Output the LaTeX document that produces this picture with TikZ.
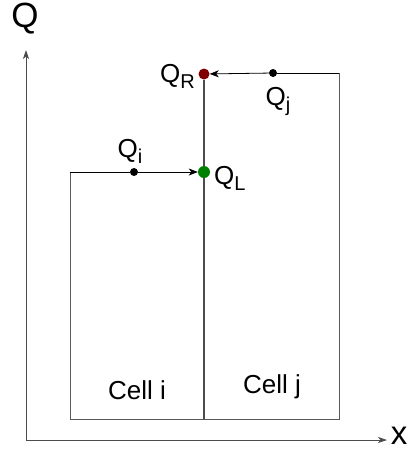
\documentclass[tikz,border=0pt]{standalone}
\usepackage{fontspec}
\setmainfont{Liberation Sans}
\usetikzlibrary{arrows.meta}
\newcommand{\qsub}[1]{Q\raisebox{-6pt}{\fontsize{20}{22}\selectfont #1}}
\begin{document}
\begin{tikzpicture}[x=1pt,y=-1pt,every node/.style={font=\fontsize{26}{28}\selectfont,inner sep=0pt},
  cellline/.style={draw=black!65,line width=0.9pt},
  flux/.style={-{Stealth[length=9pt,width=7pt,inset=2.5pt]},line width=0.8pt},
  dot/.style={circle,fill=black,inner sep=0pt,minimum size=8pt}]
\useasboundingbox (0,0) rectangle (409,451);
% axes
\coordinate (o) at (26,440);
\coordinate (ytop) at (26,50);
\coordinate (xend) at (387,440);
\draw[-{Stealth[length=9pt,width=6pt,inset=2.5pt]},line width=0.8pt,black!70] (o) -- (ytop);
\draw[-{Stealth[length=9pt,width=6pt,inset=2.5pt]},line width=0.8pt,black!70] (o) -- (xend);
\node[font=\fontsize{35}{37}\selectfont] (qax) at (25,19) {Q};
\node[font=\fontsize{33}{35}\selectfont] (xax) at (399,436) {x};
% cells
\coordinate (ci_tl) at (70,172);
\coordinate (ci_bl) at (70,419);
\coordinate (mid_b) at (204,419);
\coordinate (cj_tr) at (339,73);
\coordinate (cj_br) at (339,419);
\node[dot,fill=red!50!black,minimum size=11pt] (qr) at (204,74) {};
\node[dot,fill=green!50!black,minimum size=12pt] (ql) at (204,172) {};
\node[dot] (qi) at (134,172) {};
\node[dot] (qj) at (273,73) {};
\draw[cellline] (ci_tl) -- (ci_bl) -- (cj_br) -- (cj_tr);
\draw[line width=1.2pt,black!70] (mid_b) -- (ql) -- (qr);
\draw[line width=0.8pt] (ci_tl) -- (qi);
\draw[line width=0.8pt] (cj_tr) -- (qj);
\draw[flux] (qi) -- (ql);
\draw[flux] (qj) -- (qr);
% labels
\node[anchor=east] (lqr) at (195,76) {\qsub{R}};
\node[anchor=west] (lql) at (214,178) {\qsub{L}};
\node (lqi) at (130,151) {\qsub{i}};
\node (lqj) at (278,101) {\qsub{j}};
\node (celli) at (137,390) {Cell i};
\node (cellj) at (272,387) {Cell j};
\end{tikzpicture}
\end{document}
